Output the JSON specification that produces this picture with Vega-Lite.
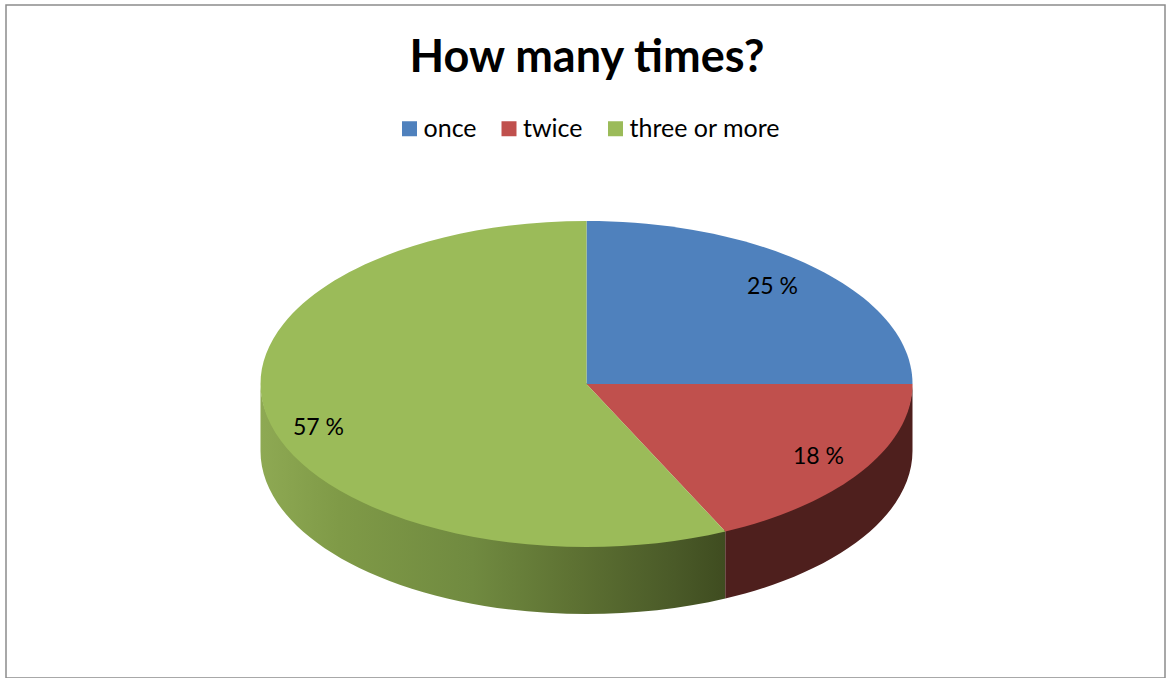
{
  "$schema": "https://vega.github.io/schema/vega-lite/v6.json",
  "autosize": "none",
  "padding": {"left": 6, "top": 5, "right": 1, "bottom": 0},
  "width": 1159,
  "height": 673,
  "background": "white",
  "view": {"stroke": "#8c8c8c", "strokeWidth": 1.5, "fill": "white"},
  "title": {
    "text": "How many times?",
    "font": "Lato",
    "fontSize": 45,
    "fontWeight": "bold",
    "color": "#000000",
    "anchor": "middle",
    "baseline": "alphabetic",
    "offset": 0,
    "dx": 1.5,
    "dy": 112
  },
  "data": {
    "values": [
      {"answer": "once", "value": 25, "label": "25 %"},
      {"answer": "twice", "value": 18, "label": "18 %"},
      {"answer": "three or more", "value": 57, "label": "57 %"}
    ]
  },
  "encoding": {
    "color": {
      "field": "answer",
      "type": "nominal",
      "scale": {
        "domain": ["once", "twice", "three or more"],
        "range": ["#4f81bd", "#c0504d", "#9bbb59"]
      },
      "legend": {
        "orient": "none",
        "legendX": 391,
        "legendY": 111,
        "direction": "horizontal",
        "title": null,
        "symbolType": "square",
        "symbolSize": 225,
        "symbolOpacity": 1,
        "labelFont": "Lato",
        "labelFontSize": 25,
        "labelColor": "#000000",
        "labelOffset": 1.5,
        "columnPadding": 19.5
      }
    }
  },
  "layer": [
    {
      "mark": {"type": "square", "size": 4, "opacity": 1, "xOffset": 1, "yOffset": 42.5}
    },
    {
      "transform": [{"filter": "datum.answer === 'three or more'"}],
      "mark": {
        "type": "point",
        "filled": true,
        "opacity": 1,
        "size": 4,
        "xOffset": 1,
        "yOffset": 42.5,
        "shape": "M-326,-2 L-326,67 A326,163 0 0 0 138.8,214.5 L138.8,145.5 A326,163 0 0 1 -326,-2 Z",
        "fill": {
          "gradient": "linear",
          "x1": 0, "x2": 1, "y1": 0, "y2": 0,
          "stops": [
            {"offset": 0, "color": "#8ea953"},
            {"offset": 0.17, "color": "#7f9a47"},
            {"offset": 0.457, "color": "#708a40"},
            {"offset": 0.67, "color": "#5e7233"},
            {"offset": 0.89, "color": "#4a5a28"},
            {"offset": 1, "color": "#3f4c20"}
          ]
        }
      },
      "encoding": {"color": {"value": null}}
    },
    {
      "transform": [{"filter": "datum.answer === 'twice'"}],
      "mark": {
        "type": "point",
        "filled": true,
        "opacity": 1,
        "size": 4,
        "xOffset": 1,
        "yOffset": 42.5,
        "shape": "M138.8,145.5 L138.8,214.5 A326,163 0 0 0 326,67 L326,-2 A326,163 0 0 1 138.8,145.5 Z",
        "fill": "#4e1f1d"
      },
      "encoding": {"color": {"value": null}}
    },
    {
      "transform": [{"filter": "datum.answer === 'once'"}],
      "mark": {"type": "point", "filled": true, "opacity": 1, "size": 4, "xOffset": 1, "yOffset": 42.5,
        "shape": "M0,0 L0,-163 A326,163 0 0 1 326,0 Z"}
    },
    {
      "transform": [{"filter": "datum.answer === 'twice'"}],
      "mark": {"type": "point", "filled": true, "opacity": 1, "size": 4, "xOffset": 1, "yOffset": 42.5,
        "shape": "M0,0 L326,0 A326,163 0 0 1 138.8,147.5 Z"}
    },
    {
      "transform": [{"filter": "datum.answer === 'three or more'"}],
      "mark": {"type": "point", "filled": true, "opacity": 1, "size": 4, "xOffset": 1, "yOffset": 42.5,
        "shape": "M0,0 L138.8,147.5 A326,163 0 1 1 0,-163 Z"}
    },
    {
      "transform": [{"filter": "datum.answer === 'once'"}],
      "mark": {"type": "text", "font": "Lato", "fontSize": 23, "xOffset": 187, "yOffset": -55},
      "encoding": {"text": {"field": "label", "type": "nominal"}, "color": {"value": "#000000"}}
    },
    {
      "transform": [{"filter": "datum.answer === 'twice'"}],
      "mark": {"type": "text", "font": "Lato", "fontSize": 23, "xOffset": 233, "yOffset": 115},
      "encoding": {"text": {"field": "label", "type": "nominal"}, "color": {"value": "#000000"}}
    },
    {
      "transform": [{"filter": "datum.answer === 'three or more'"}],
      "mark": {"type": "text", "font": "Lato", "fontSize": 23, "xOffset": -267, "yOffset": 86},
      "encoding": {"text": {"field": "label", "type": "nominal"}, "color": {"value": "#000000"}}
    }
  ]
}
